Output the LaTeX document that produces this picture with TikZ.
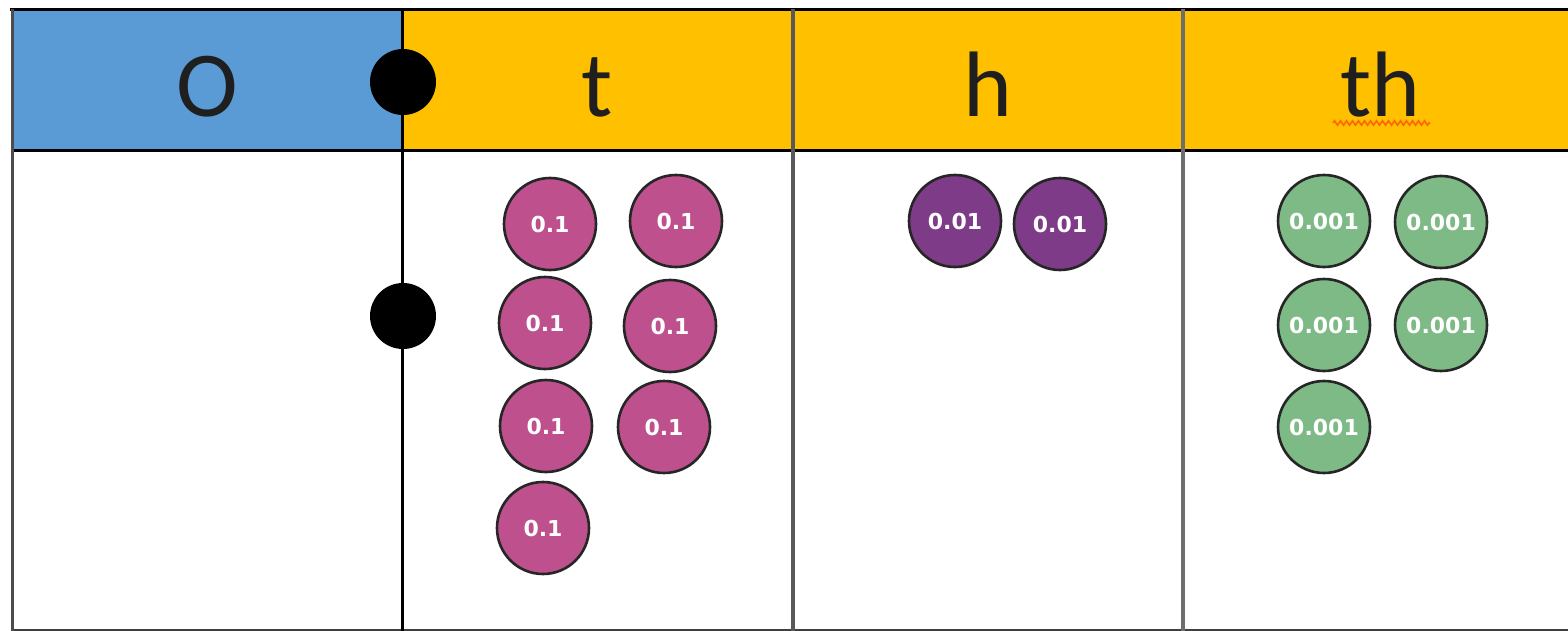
\documentclass[tikz,border=0pt]{standalone}
\usepackage{fontspec}
\setmainfont{Carlito}
\newfontfamily\coinfont{DejaVu Sans}
\usetikzlibrary{decorations.pathmorphing}
\definecolor{hdrblue}{HTML}{5B9BD5}
\definecolor{hdryellow}{HTML}{FFC000}
\definecolor{coinpink}{HTML}{BE508D}
\definecolor{coinpurple}{HTML}{7E3B87}
\definecolor{coingreen}{HTML}{7DBA86}
\definecolor{gridgray}{HTML}{6E6E6E}
\tikzset{
  coin/.style={circle, draw=black!85, line width=2.6pt, minimum size=92pt, inner sep=0pt,
    text=white, font=\coinfont\bfseries\fontsize{22}{24}\selectfont},
  tenths/.style={coin, fill=coinpink},
  hundredths/.style={coin, fill=coinpurple},
  thousandths/.style={coin, fill=coingreen},
  hdr/.style={font=\fontsize{93}{100}\selectfont, text=black!88, inner sep=0pt, anchor=base},
  pointdot/.style={circle, fill=black, inner sep=0pt, minimum size=66pt},
}
\begin{document}
\begin{tikzpicture}[x=1pt,y=-1pt]
\useasboundingbox (0,0) rectangle (1568,631);
\fill[white] (0,0) rectangle (1568,631);
% header fills
\fill[hdrblue] (12,10) rectangle (402,151);
\fill[hdryellow] (402,10) rectangle (1568,151);
% grid lines
\draw[line width=3pt, black] (10,10) -- (1568,10);
\draw[line width=3pt, black] (12,151) -- (1568,151);
\draw[line width=3pt, black!75] (12,630) -- (1568,630);
\draw[line width=3.5pt, black!70] (12.5,9) -- (12.5,631);
\draw[line width=3pt, black] (402.5,9) -- (402.5,631);
\draw[line width=3.5pt, black!65] (793,9) -- (793,631);
\draw[line width=4pt, gridgray] (1183,9) -- (1183,631);
% header labels
\node[hdr] (hO) at (207,117) {O};
\node[hdr] (ht) at (597,117) {t};
\node[hdr] (hh) at (988,117) {h};
\node[hdr] (hth) at (1380,117) {th};
\coordinate (sqA) at (1333,123);
\coordinate (sqB) at (1430,123);
\draw[draw=orange!80!red, line width=1.6pt, decorate, decoration={zigzag, amplitude=2.2pt, segment length=6pt}] (sqA) -- (sqB);
% decimal point dots
\node[pointdot] (dotA) at (403,82) {};
\node[pointdot] (dotB) at (403,316) {};
% tenths
\node[tenths] (t1) at (550,224) {0.1};
\node[tenths] (t2) at (676,221) {0.1};
\node[tenths] (t3) at (545,323) {0.1};
\node[tenths] (t4) at (670,326) {0.1};
\node[tenths] (t5) at (546,426) {0.1};
\node[tenths] (t6) at (664,427) {0.1};
\node[tenths] (t7) at (543,528) {0.1};
% hundredths
\node[hundredths] (h1) at (955,221) {0.01};
\node[hundredths] (h2) at (1060,224) {0.01};
% thousandths
\node[thousandths] (th1) at (1324,221) {0.001};
\node[thousandths] (th2) at (1441,222) {0.001};
\node[thousandths] (th3) at (1324,325) {0.001};
\node[thousandths] (th4) at (1441,325) {0.001};
\node[thousandths] (th5) at (1324,427) {0.001};
\end{tikzpicture}
\end{document}
